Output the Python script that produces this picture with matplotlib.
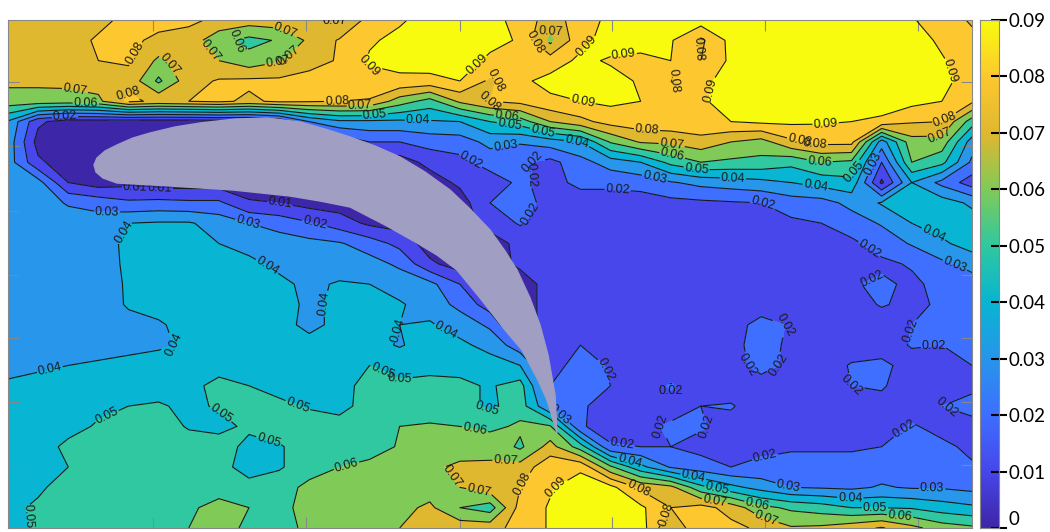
import numpy as np
import matplotlib
matplotlib.use("Agg")
import matplotlib.pyplot as plt
from matplotlib.colors import LinearSegmentedColormap

plt.rcParams["font.family"] = ["Liberation Sans", "DejaVu Sans"]

# field, in 0.001 units, one row per y position
x_grid = np.linspace(8, 972, 33)
y_grid = np.linspace(20, 528, 26)
rows = [
    [76,76,76,78,82,83,82,78,75,76,76,68,84,89,93,93,92,88,74,86,92,95,95,95,95,95,95,95,95,95,91,84,79],
    [76,76,77,81,82,78,76,63,57,61,72,81,89,92,95,95,93,89,67,87,94,95,91,78,93,95,95,95,95,95,95,88,82],
    [76,76,77,80,81,68,75,70,64,69,76,81,91,93,95,95,88,89,85,92,89,87,90,80,92,95,95,95,95,95,95,91,84],
    [72,72,73,74,77,58,76,81,82,82,84,83,87,88,87,90,78,88,93,95,93,89,79,88,93,95,95,95,95,95,95,93,85],
    [66,66,65,68,82,78,80,82,78,82,81,80,79,65,56,72,80,83,88,90,92,90,86,89,93,95,95,95,95,95,93,90,82],
    [39,12,5,5,4,4,4,5,5,10,30,38,38,38,39,40,50,55,70,77,84,86,87,88,90,92,92,91,90,88,81,80,55],
    [36,6,4,4,5,5,5,5,5,5,5,12,20,20,24,25,33,31,35,40,61,71,72,76,70,66,78,83,83,35,66,66,35],
    [35,12,4,4,5,5,5,5,5,5,5,5,5,5,13,17,24,22,17,26,35,40,53,60,58,57,53,60,58,20,60,53,28],
    [35,34,10,5,7,5,5,5,5,5,5,5,5,5,5,12,15,22,16,23,22,24,29,33,35,37,40,44,47,8,40,27,15],
    [35,35,29,26,22,23,22,22,11,10,6,5,5,5,5,5,20,26,15,14,16,15,17,18,19,20,25,26,33,41,45,45,38],
    [35,35,35,35,40,41,41,36,30,26,21,15,8,6,5,5,14,21,15,14,14,14,15,15,15,15,18,20,25,31,40,45,45],
    [35,35,35,36,42,45,44,40,37,35,33,31,25,17,5,5,5,13,14,14,14,14,14,14,14,14,14,15,18,24,31,38,45],
    [35,35,35,35,42,46,47,45,42,38,36,35,34,28,12,5,5,12,14,14,14,14,14,14,14,14,14,14,16,18,21,28,33],
    [35,35,35,36,41,45,47,46,45,42,38,41,40,36,33,20,5,5,14,14,14,14,14,14,14,14,14,14,19,22,18,23,26],
    [35,35,35,35,41,43,46,46,46,44,38,42,43,41,36,27,15,5,14,14,14,14,14,14,14,14,14,19,15,21,17,22,25],
    [35,35,35,35,37,39,43,46,46,44,37,43,44,40,41,36,28,5,14,16,14,14,14,14,15,24,19,14,14,14,20,21,24],
    [36,37,37,37,38,39,41,46,47,46,44,44,44,39,45,42,37,24,10,20,15,14,14,14,17,24,18,14,14,14,21,20,22],
    [38,39,40,41,42,43,45,46,47,46,46,47,50,48,47,47,44,40,16,24,19,14,14,14,15,24,17,14,21,23,15,15,20],
    [41,42,43,44,45,46,47,53,50,47,46,46,54,51,53,52,49,54,20,24,20,14,21,14,14,15,15,14,20,21,15,14,18],
    [44,45,46,48,50,51,48,51,55,52,49,46,55,56,55,54,48,55,30,21,17,15,17,20,21,14,14,15,19,17,15,20,23],
    [44,46,47,51,55,55,49,47,52,55,55,55,55,60,61,60,57,62,61,21,16,18,21,21,16,14,15,15,15,15,21,17,17],
    [44,46,52,55,55,55,55,55,47,49,55,55,55,61,65,65,68,58,74,55,21,20,20,17,16,18,19,19,19,20,22,22,18],
    [44,47,50,55,55,55,55,55,44,49,55,60,63,66,68,72,71,74,87,88,62,43,29,24,20,22,23,23,23,25,25,23,21],
    [45,48,55,55,55,55,55,55,55,55,63,65,65,66,65,70,76,80,89,95,93,78,73,53,43,36,30,29,28,31,29,29,27],
    [47,52,55,55,55,55,58,64,60,55,66,66,65,67,72,60,55,84,91,95,95,92,80,84,76,63,58,55,50,50,49,45,42],
    [47,51,55,55,55,55,60,64,58,50,66,66,66,70,76,76,76,84,91,95,95,95,70,90,83,78,71,72,76,81,73,65,62],
]

levels = [0, 0.01, 0.02, 0.03, 0.04, 0.05, 0.06, 0.07, 0.08, 0.09]
bar_ticks = [0, 0.01, 0.02, 0.03, 0.04, 0.05, 0.06, 0.07, 0.08, 0.09]
bar_labels = ["0", "0.01", "0.02", "0.03", "0.04", "0.05", "0.06", "0.07", "0.08", "0.09"]
band_colors = ["#3e26a8", "#4747eb", "#3e6fff", "#2796eb", "#08b5d2", "#30c8a0",
               "#80cb58", "#e0b830", "#fdc82f", "#f9fb0e"]

airfoil_x = [94, 97, 105, 117, 133, 150, 175, 200, 235, 267, 300, 325, 350, 375, 400, 425,
             450, 470, 490, 505, 517, 530, 540, 548, 555, 557, 553, 547, 538, 522, 505, 480,
             457, 437, 417, 385, 350, 320, 290, 233, 170, 117, 103, 96]
airfoil_y = [165, 158, 151, 145, 138, 133, 127, 123, 119, 118, 122, 129, 137, 146, 157, 172,
             190, 209, 230, 251, 270, 298, 325, 355, 395, 433, 420, 400, 380, 350, 330, 298,
             270, 255, 243, 225, 207, 201, 196, 190, 186, 183, 178, 172]

# where the contour labels sit in the reference
label_spots = [
    (133, 52), (168, 65), (235, 44), (205, 55), (285, 32), (283, 50), (288, 62), (333, 25),
    (337, 100), (76, 85), (123, 91), (86, 100), (65, 117), (360, 78), (480, 68), (525, 55),
    (558, 28), (583, 42), (623, 49), (693, 50), (685, 83), (702, 88), (503, 75), (582, 105),
    (490, 102), (507, 115), (510, 122), (543, 130), (577, 141), (647, 127), (672, 143),
    (672, 156), (696, 172), (733, 177), (655, 177), (505, 142), (525, 157), (540, 170),
    (468, 165), (528, 213), (618, 187), (763, 203), (815, 190), (826, 128), (800, 140),
    (815, 143), (820, 160), (855, 172), (875, 165), (952, 70), (945, 120), (940, 135),
    (933, 235), (955, 265), (870, 248), (418, 123), (375, 117), (360, 108), (107, 208),
    (160, 193), (135, 190), (280, 204), (315, 222), (248, 222), (130, 235), (268, 265),
    (322, 303), (398, 330), (445, 332), (190, 340), (50, 370), (105, 412), (300, 400),
    (382, 372), (395, 395), (220, 415), (268, 443), (484, 415), (345, 460), (473, 440),
    (451, 477), (505, 470), (525, 485), (555, 485), (568, 405), (605, 370), (640, 420),
    (670, 397), (720, 425), (622, 442), (630, 460), (693, 478), (717, 490), (757, 505),
    (715, 500), (765, 522), (787, 490), (850, 502), (875, 510), (900, 518), (932, 493),
    (765, 457), (905, 430), (945, 413), (830, 400), (780, 365), (745, 365), (875, 285),
    (825, 312), (908, 330), (933, 338), (30, 515), (478, 497), (668, 515), (636, 492),
]

x_ticks = [153, 306, 460, 612, 765, 918]
y_ticks = [82, 146, 211, 275, 338, 402, 465]

z = np.array(rows) / 1000

fig = plt.figure(figsize=(10.5, 5.32), dpi=100)
ax = fig.add_axes([8 / 1050, 4 / 532, 964 / 1050, 508 / 532])
cax = fig.add_axes([980 / 1050, 4 / 532, 19 / 1050, 508 / 532])

ax.contourf(x_grid, y_grid, z, levels=levels, colors=band_colors, extend="max")
lines = ax.contour(x_grid, y_grid, z, levels=levels[1:], colors="#1a1a1a", linewidths=0.8)
ax.set_xlim(8, 972)
ax.set_ylim(528, 20)
ax.clabel(lines, fmt="%.2f", fontsize=9, inline=True, inline_spacing=1, manual=label_spots)
ax.fill(airfoil_x, airfoil_y, color="#a09ec3", zorder=5)

ax.set_xticks(x_ticks)
ax.set_yticks(y_ticks)
ax.tick_params(direction="in", length=8, color="#888888", top=True, right=True,
               labelbottom=False, labelleft=False)
for s in ax.spines.values():
    s.set_color("#888888")

# colour bar is a smooth gradient, unlike the bands
bar_cmap = LinearSegmentedColormap.from_list("bar", band_colors)
cax.imshow(np.linspace(0.09, 0, 256).reshape(-1, 1), cmap=bar_cmap, aspect="auto",
           extent=[0, 1, 0, 0.09], vmin=0, vmax=0.09)
cax.set_xticks([])
cax.yaxis.tick_right()
cax.set_yticks(bar_ticks)
cax.set_yticklabels(bar_labels, fontfamily="Lato", fontsize=13.5)
cax.get_yticklabels()[0].set_va("bottom")
cax.tick_params(axis="y", direction="inout", length=11, width=1.5, color="black", pad=1.5)
for s in cax.spines.values():
    s.set_color("#888888")

fig.savefig("out.png", dpi=100)
